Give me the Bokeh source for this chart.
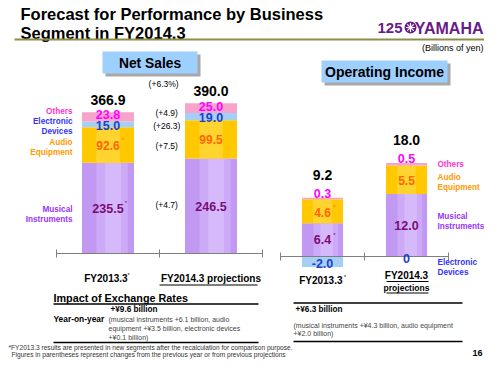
from bokeh.plotting import figure
from bokeh.models import Range1d
from bokeh.core.properties import value
from bokeh.embed import file_html
from bokeh.resources import INLINE

# ---------------- data ----------------
categories = ["FY2013.3", "FY2014.3 projections"]
segments = ["Musical Instruments", "Audio Equipment", "Electronic Devices", "Others"]
ns_musical = [235.5, 246.5]
ns_audio = [92.6, 99.5]
ns_electronic = [15.0, 19.0]
ns_others = [23.8, 25.0]
ns_total = [366.9, 390.0]
ns_change = ["(+4.7)", "(+7.5)", "(+26.3)", "(+4.9)"]
ns_total_change = "(+6.3%)"
oi_musical = [6.4, 12.0]
oi_audio = [4.6, 5.5]
oi_electronic = [-2.0, 0.0]
oi_others = [0.3, 0.5]
oi_total = [9.2, 18.0]
fx_ns = "+\u00a59.6 billion"
fx_ns_detail = ["(musical instruments  +6.1 billion,  audio",
                "equipment  +\u00a53.5 billion, electronic devices",
                "+\u00a50.1 billion)"]
fx_oi = "+\u00a56.3 billion"
fx_oi_detail = ["(musical instruments  +\u00a54.3 billion, audio equipment",
                "+\u00a52.0 billion)"]

# ---------------- style / layout ----------------
FONT = "Liberation Sans"
C_MI, C_MI_L, C_MI_LL = "#C199F2", "#CDAAF7", "#D6B9FB"
C_AE, C_AE_L = "#FFC800", "#FFD42E"
C_ED = "#A6CFF7"
C_OT = "#F7A3CB"
T_MI, V_MI = "#9933FF", "#7A0A7A"
T_AE, V_AE = "#FF9900", "#FF6600"
T_ED, V_ED = "#3333FF", "#1a3fd0"
T_OT, V_OT = "#FF33CC", "#FF00FF"

W, H = 484, 359
p = figure(width=W, height=H, x_range=Range1d(0, W), y_range=Range1d(H, 0),
           output_backend="svg", toolbar_location=None, min_border=0,
           x_axis_type=None, y_axis_type=None)
p.grid.visible = False
p.outline_line_color = None
p.background_fill_color = "white"

# scales: value -> page y = BASE - K * v ; category position u -> x = X0 + DX * u
NS_BASE, NS_K, NS_X0, NS_DX = 253.0, 0.385, 56.0, 103.0
OI_BASE, OI_K, OI_X0, OI_DX = 256.0, 5.2, 280.0, 84.0
p.extra_y_ranges = {
    "nsy": Range1d((NS_BASE - H) / NS_K, NS_BASE / NS_K),
    "oiy": Range1d((OI_BASE - H) / OI_K, OI_BASE / OI_K),
}
p.extra_x_ranges = {
    "nsx": Range1d(-NS_X0 / NS_DX, (W - NS_X0) / NS_DX),
    "oix": Range1d(-OI_X0 / OI_DX, (W - OI_X0) / OI_DX),
}


def txt(x, y, s, size, color="black", bold=True, align="center", baseline="middle",
        xr="default", yr="default", **kw):
    p.text(x=x if isinstance(x, list) else [x], y=y if isinstance(y, list) else [y],
           text=s if isinstance(s, list) else [s],
           text_font=value(FONT), text_font_size=f"{size}px",
           text_font_style="bold" if bold else "normal", text_color=color,
           text_align=align, text_baseline=baseline,
           x_range_name=xr, y_range_name=yr, **kw)


xs = [i + 0.5 for i in range(len(categories))]

# ---------------- header ----------------
txt(20, 13.5, "Forecast for Performance by Business", 16.5, align="left")
txt(20, 32, "Segment in FY2014.3", 16.5, align="left")
p.segment(x0=[14], x1=[484], y0=[39], y1=[39], line_color="#8E8E4A", line_width=2)
txt(377, 27, "125", 15, "#6A1B8A", align="left")
p.scatter(x=[410], y=[27], size=12, marker="circle", fill_color="#6A1B8A", line_color=None)
p.scatter(x=[410], y=[27], size=9, marker="asterisk", line_color="white", line_width=1.2)
txt(483, 27.5, "YAMAHA", 16, "#6A1B8A", align="right")
txt(483, 47, "(Billions of yen)", 9, bold=False, align="right")


def header_box(l, r, t, b, label, size):
    p.quad(left=[l + 3], right=[r + 3], top=[t + 3], bottom=[b + 3], fill_color="#A8A8A8",
           line_color=None)
    p.quad(left=[l], right=[r], top=[t], bottom=[b], fill_color="#9DCFFF", line_color=None)
    txt((l + r) / 2, (t + b) / 2 + 0.5, label, size)


header_box(102, 197, 51, 73, "Net Sales", 13.8)
header_box(321, 447, 60, 82, "Operating Income", 14)


# ---------------- stacked bars ----------------
def stack(parts):
    bottoms, tops = [], []
    acc = [0.0] * len(parts[0])
    for vals in parts:
        b = list(acc)
        t = [a + v for a, v in zip(acc, vals)]
        bottoms.append(b)
        tops.append(t)
        acc = t
    return bottoms, tops


def draw_mi(xr, yr, width, bottom, top):
    p.vbar(x=xs, width=width, bottom=bottom, top=top, fill_color=C_MI, line_color=None,
           x_range_name=xr, y_range_name=yr)
    p.vbar(x=[x + 0.04 for x in xs], width=width * 0.6, bottom=bottom, top=top,
           fill_color=C_MI_L, line_color=None, x_range_name=xr, y_range_name=yr)
    p.vbar(x=[x + 0.05 for x in xs], width=width * 0.3, bottom=bottom, top=top,
           fill_color=C_MI_LL, line_color=None, x_range_name=xr, y_range_name=yr)


def draw_ae(xr, yr, width, bottom, top):
    p.vbar(x=xs, width=width, bottom=bottom, top=top, fill_color=C_AE, line_color=None,
           x_range_name=xr, y_range_name=yr)
    p.vbar(x=xs, width=width * 0.45, bottom=bottom, top=top, fill_color=C_AE_L,
           line_color=None, x_range_name=xr, y_range_name=yr)


# Net sales
nb, nt = stack([ns_musical, ns_audio, ns_electronic, ns_others])
NSW = 0.505
draw_mi("nsx", "nsy", NSW, nb[0], nt[0])
draw_ae("nsx", "nsy", NSW, nb[1], nt[1])
p.vbar(x=xs, width=NSW, bottom=nb[2], top=nt[2], fill_color=C_ED, line_color=None,
       x_range_name="nsx", y_range_name="nsy")
p.vbar(x=xs, width=NSW, bottom=nb[3], top=nt[3], fill_color=C_OT, line_color=None,
       x_range_name="nsx", y_range_name="nsy")

# axis
p.segment(x0=[0], x1=[len(categories)], y0=[0], y1=[0], line_color="#7F7F7F", line_width=1,
          x_range_name="nsx", y_range_name="nsy")
p.scatter(x=list(range(len(categories) + 1)), y=[0] * (len(categories) + 1), marker="dash",
          angle=1.5708, size=8, line_color="#7F7F7F", x_range_name="nsx", y_range_name="nsy")

mids = [[(b + t) / 2 for b, t in zip(nb[k], nt[k])] for k in range(4)]
txt(xs, mids[0], [f"{v:.1f}" for v in ns_musical], 12.5, V_MI, xr="nsx", yr="nsy")
txt(xs, mids[1], [f"{v:.1f}" for v in ns_audio], 12, V_AE, xr="nsx", yr="nsy")
txt(xs, mids[2], [f"{v:.1f}" for v in ns_electronic], 12.5, V_ED, xr="nsx", yr="nsy", y_offset=1)
txt(xs, mids[3], [f"{v:.1f}" for v in ns_others], 12.5, V_OT, xr="nsx", yr="nsy", y_offset=-2)
txt([xs[0]], [mids[0][0]], "*", 6, V_MI, bold=False, xr="nsx", yr="nsy", x_offset=18, y_offset=-5)
txt([xs[0]], [mids[1][0]], "*", 6, V_AE, bold=False, xr="nsx", yr="nsy", x_offset=15, y_offset=-5)
txt(xs, ns_total, [f"{v:.1f}" for v in ns_total], 14, "black", baseline="bottom",
    xr="nsx", yr="nsy", y_offset=-7)

# change labels between bars (aligned with FY2013.3 segments)
for k, off in zip(range(4), [-3, 1, 1.5, -4]):
    txt(1.07, mids[k][0], ns_change[k], 8.5, bold=False, xr="nsx", yr="nsy", y_offset=off)
txt(1.04, 83, ns_total_change, 8.5, bold=False, xr="nsx")

# left segment labels
txt(72, 111, "Others", 8.2, T_OT, align="right")
txt(72, 126, "Electronic\nDevices", 8.2, T_ED, align="right", text_line_height=1.2)
txt(72, 147, "Audio\nEquipment", 8.2, T_AE, align="right", text_line_height=1.2)
txt(72, 214, "Musical\nInstruments", 8.2, T_MI, align="right", text_line_height=1.2)

# category labels
txt(xs[0] - 0.02, 278, categories[0], 10, xr="nsx")
txt(xs[0] + 0.2, 274, "*", 5.5, bold=False, xr="nsx")
txt(xs[1], 278, categories[1], 10, xr="nsx")
p.segment(x0=[159], x1=[257], y0=[284.5], y1=[284.5], line_color="black", line_width=1)

# ---------------- operating income ----------------
OIW = 0.49
pos = [[max(v, 0) for v in oi_musical], oi_audio, oi_others]
ob, ot_ = stack(pos)
draw_mi("oix", "oiy", OIW, ob[0], ot_[0])
draw_ae("oix", "oiy", OIW, ob[1], ot_[1])
p.vbar(x=xs, width=OIW, bottom=ob[2], top=ot_[2], fill_color=C_OT, line_color=None,
       x_range_name="oix", y_range_name="oiy")
p.vbar(x=xs, width=OIW, bottom=[0, 0], top=oi_electronic, fill_color=C_ED, line_color=None,
       x_range_name="oix", y_range_name="oiy")
p.segment(x0=[0], x1=[len(categories)], y0=[0], y1=[0], line_color="#7F7F7F", line_width=1,
          x_range_name="oix", y_range_name="oiy")
p.scatter(x=list(range(len(categories) + 1)), y=[0] * (len(categories) + 1), marker="dash",
          angle=1.5708, size=8, line_color="#7F7F7F", x_range_name="oix", y_range_name="oiy")

omids = [[(b + t) / 2 for b, t in zip(ob[k], ot_[k])] for k in range(3)]
fmt = lambda v: "0" if v == 0 else f"{v:.1f}"
txt(xs, omids[0], [fmt(v) for v in oi_musical], 12.5, V_MI, xr="oix", yr="oiy")
txt(xs, omids[1], [fmt(v) for v in oi_audio], 12, V_AE, xr="oix", yr="oiy", y_offset=1)
txt(xs, ot_[2], [fmt(v) for v in oi_others], 12.5, V_OT, xr="oix", yr="oiy", y_offset=-4)
txt(xs, [e / 2 for e in oi_electronic], [fmt(v) for v in oi_electronic], 12.5, V_ED,
    xr="oix", yr="oiy", y_offset=2)
txt([xs[0]], [omids[0][0]], "*", 6, V_MI, bold=False, xr="oix", yr="oiy", x_offset=12, y_offset=-5)
txt([xs[0]], [omids[1][0]], "*", 6, V_AE, bold=False, xr="oix", yr="oiy", x_offset=12, y_offset=-4)
txt(xs, ot_[2], [f"{v:.1f}" for v in oi_total], 14, "black", baseline="bottom",
    xr="oix", yr="oiy", y_offset=-18)

txt(437, 164, "Others", 8.2, T_OT, align="left")
txt(437, 182, "Audio\nEquipment", 8.2, T_AE, align="left", text_line_height=1.2)
txt(437, 221, "Musical\nInstruments", 8.2, T_MI, align="left", text_line_height=1.2)
txt(437, 267, "Electronic\nDevices", 8.2, T_ED, align="left", text_line_height=1.2)

txt(xs[0] - 0.02, 280, categories[0], 10, xr="oix")
txt(xs[0] + 0.27, 276, "*", 5.5, bold=False, xr="oix")
txt(xs[1], 275, categories[1].split(" ")[0], 10, xr="oix")
txt(xs[1], 287, categories[1].split(" ")[1], 8.5, xr="oix")
p.segment(x0=[386, 386], x1=[428, 428], y0=[281, 292.5], y1=[281, 292.5],
          line_color="black", line_width=1)

# ---------------- exchange rates ----------------
txt(53, 297, "Impact of Exchange Rates", 10.8, align="left")
p.segment(x0=[53, 53, 293, 293], x1=[258, 258, 462, 462], y0=[303.5, 342, 302.5, 341],
          y1=[303.5, 342, 302.5, 341], line_color="black", line_width=1.5)
txt(110, 309, fx_ns, 8.2, align="left")
txt(53, 318, "Year-on-year", 8.4, align="left")
txt([108] * 3, [319, 328, 336.5], fx_ns_detail, 7, "#444444", bold=False, align="left")
txt(295, 309, fx_oi, 8.2, align="left")
txt([293] * 2, [325, 333], fx_oi_detail, 7, "#444444", bold=False, align="left")

# ---------------- footnotes ----------------
txt(8, 347, "*FY2013.3 results are presented in new segments after the recalculation for comparison purpose.",
    6.6, "#333333", bold=False, align="left")
txt(11, 353.5, "Figures in parentheses represent  changes from the previous  year or from previous  projections",
    6.6, "#333333", bold=False, align="left")
txt(482, 352, "16", 9, align="right")

open("out.html", "w").write(file_html(p, INLINE))
